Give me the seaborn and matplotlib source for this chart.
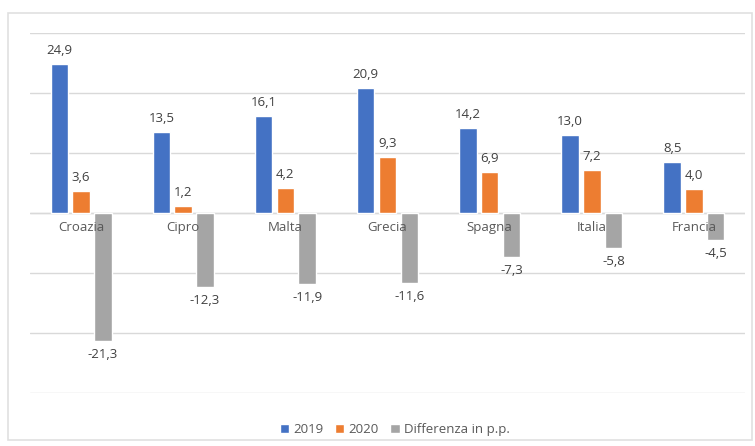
import numpy as np
import pandas as pd
import matplotlib
matplotlib.use('Agg')
import matplotlib.pyplot as plt
import seaborn as sns
from matplotlib.patches import Rectangle

paesi = ['Croazia', 'Cipro', 'Malta', 'Grecia', 'Spagna', 'Italia', 'Francia']
v2019 = [24.9, 13.5, 16.1, 20.9, 14.2, 13.0, 8.5]
v2020 = [3.6, 1.2, 4.2, 9.3, 6.9, 7.2, 4.0]
diff = [-21.3, -12.3, -11.9, -11.6, -7.3, -5.8, -4.5]
serie = ['2019', '2020', 'Differenza in p.p.']
colori = ['#4472C4', '#ED7D31', '#A5A5A5']

df = pd.DataFrame({
    'paese': paesi * 3,
    'valore': v2019 + v2020 + diff,
    'serie': [serie[0]] * 7 + [serie[1]] * 7 + [serie[2]] * 7,
})

sns.set_style('white')
plt.rcParams['font.family'] = ['Open Sans', 'DejaVu Sans']

fig = plt.figure(figsize=(7.55, 4.46), dpi=100)
ax = fig.add_axes([30 / 755, 1 - 393 / 446, 715 / 755, 360 / 446])

sns.barplot(data=df, x='paese', y='valore', hue='serie', palette=colori,
            saturation=1, width=0.64, gap=0.2, ax=ax, legend=True)

for cont, vals in zip(ax.containers, [v2019, v2020, diff]):
    labs = [f'{v:.1f}'.replace('.', ',') for v in vals]
    ax.bar_label(cont, labels=labs, padding=5, fontsize=9.5, color='#404040')

ax.set_ylim(-30, 30)
ax.set_yticks(np.arange(-30, 31, 10))
ax.set_yticklabels([])
ax.tick_params(axis='y', length=0)
ax.grid(axis='y', color='#d9d9d9', linewidth=1)
ax.set_axisbelow(True)
for s in ax.spines.values():
    s.set_visible(False)
ax.axhline(0, color='#d9d9d9', linewidth=1, zorder=0)

# nomi dei paesi sotto la linea dello zero
ax.set_xticks(range(len(paesi)))
ax.set_xticklabels([])
ax.tick_params(axis='x', length=0)
for i, p in enumerate(paesi):
    ax.text(i, -1.3, p, ha='center', va='top', fontsize=9.5, color='#595959')
ax.set_xlabel('')
ax.set_ylabel('')
ax.set_xlim(-0.5, len(paesi) - 0.5)

ax.legend(loc='upper center', bbox_to_anchor=(0.51, -0.05), ncol=3, frameon=False,
          fontsize=9.5, handlelength=0.7, handleheight=0.7, handletextpad=0.3,
          columnspacing=0.9, labelcolor='#595959')

fig.patches.append(Rectangle((8 / 755, 1 - 440 / 446), 744 / 755, 427 / 446,
                             transform=fig.transFigure, fill=False,
                             edgecolor='#e0e0e0', linewidth=1.2))

fig.savefig('out.png', dpi=100)
